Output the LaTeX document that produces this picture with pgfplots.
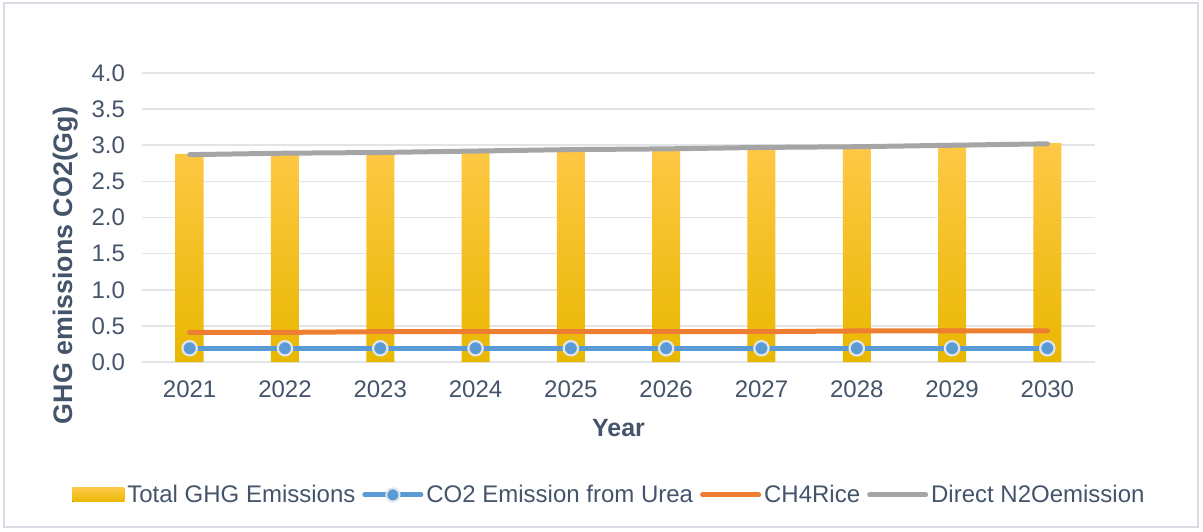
\documentclass[border=0pt]{standalone}
\usepackage{fontspec}
\setmainfont{Liberation Sans}
\usepackage{pgfplots}
\pgfplotsset{compat=1.18}

\definecolor{txt}{HTML}{44546A}
\definecolor{gridc}{HTML}{E1E4E9}
\definecolor{frame}{HTML}{D9DDE3}
\definecolor{urea}{HTML}{5B9BD5}
\definecolor{rice}{HTML}{ED7D31}
\definecolor{ntwo}{HTML}{A5A5A5}
\definecolor{bartop}{HTML}{FFC847}
\definecolor{barmid}{HTML}{FFC000}
\definecolor{barbot}{HTML}{E8B800}

\begin{document}
\begin{tikzpicture}
\useasboundingbox (0,0) rectangle (601.5pt,265.5pt);
\draw[frame, line width=0.8pt] (2pt,2pt) rectangle (599pt,264pt);
\begin{axis}[
  at={(71pt,84.5pt)}, anchor=south west,
  scale only axis, width=476.5pt, height=144.5pt,
  xmin=-0.5, xmax=9.5, ymin=0, ymax=4,
  xtick={0,...,9},
  xticklabels={2021,2022,2023,2024,2025,2026,2027,2028,2029,2030},
  ytick={0,0.5,...,4},
  yticklabel style={/pgf/number format/fixed, /pgf/number format/fixed zerofill,
    /pgf/number format/precision=1, xshift=-5pt},
  /pgf/number format/assume math mode=true,
  major tick length=0pt, tick style={draw=none},
  axis line style={draw=none},
  xmajorgrids=false, ymajorgrids, grid style={draw=gridc, line width=0.8pt},
  tick label style={font=\fontsize{12}{14}\selectfont, text=txt},
  xticklabel style={yshift=-6pt},
  xlabel={\textbf{Year}}, ylabel={\textbf{GHG emissions CO2(Gg)}},
  xlabel style={font=\fontsize{12.5}{14}\selectfont, text=txt, yshift=-4pt},
  ylabel style={font=\fontsize{13.4}{16}\selectfont, text=txt,
    at={(ticklabel cs:0.334)}},
  legend columns=4,
  legend style={at={(0.491,-0.46)}, anchor=center, draw=none, fill=none,
    font=\fontsize{12}{14}\selectfont, text=txt,
    /tikz/every even column/.append style={column sep=2pt},
    inner sep=0pt, nodes={inner xsep=1.5pt}},
  clip=false,
]
% total emissions as shaded bars
\addplot[ybar, bar width=14pt, draw=none, top color=bartop, middle color=barmid, bottom color=barbot,
  legend image code/.code={\fill[top color=bartop, middle color=barmid, bottom color=barbot] (0pt,-3.5pt) rectangle (26pt,3.5pt);}]
  coordinates {(0,2.88) (1,2.90) (2,2.91) (3,2.93) (4,2.95) (5,2.96) (6,2.98) (7,2.99) (8,3.01) (9,3.03)};
\addlegendentry{Total GHG Emissions}
% urea CO2 with round markers
\addplot[urea, line width=2.5pt, line cap=round, mark=*,
  mark options={fill=urea, draw=gridc, line width=1.1pt, scale=1.8},
  legend image code/.code={\draw[urea, line width=2.5pt, line cap=round] (0pt,0pt) -- (28pt,0pt);
    \fill[urea, draw=gridc, line width=1pt] (14pt,0pt) circle (3.3pt);}]
  coordinates {(0,0.19) (1,0.19) (2,0.19) (3,0.19) (4,0.19) (5,0.19) (6,0.19) (7,0.19) (8,0.19) (9,0.19)};
\addlegendentry{CO2 Emission from Urea}
\addplot[rice, line width=2.5pt, line cap=round, no marks,
  legend image code/.code={\draw[rice, line width=2.5pt, line cap=round] (0pt,0pt) -- (28pt,0pt);}]
  coordinates {(0,0.41) (1,0.41) (2,0.42) (3,0.42) (4,0.42) (5,0.42) (6,0.42) (7,0.43) (8,0.43) (9,0.43)};
\addlegendentry{CH4Rice}
\addplot[ntwo, line width=2.5pt, line cap=round, no marks,
  legend image code/.code={\draw[ntwo, line width=2.5pt, line cap=round] (0pt,0pt) -- (28pt,0pt);}]
  coordinates {(0,2.87) (1,2.89) (2,2.90) (3,2.92) (4,2.94) (5,2.95) (6,2.97) (7,2.98) (8,3.00) (9,3.02)};
\addlegendentry{Direct N2Oemission}
\end{axis}
\end{tikzpicture}
\end{document}
